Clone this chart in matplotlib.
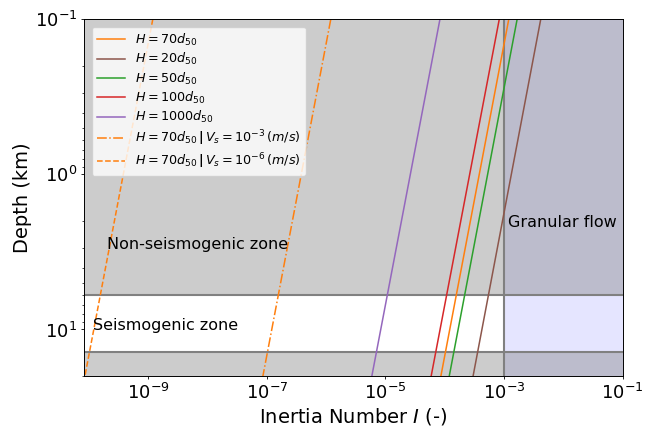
import matplotlib
matplotlib.use("Agg")
import matplotlib.pyplot as plt

# depth (km) at the two ends of every line, lines are straight on log-log
depth_ends = [0.1, 20]

# inertia number read at top (0.1 km) and bottom (20 km)
I_H70 = [1.20e-3, 8.6e-5]
I_H20 = [4.15e-3, 3.0e-4]
I_H50 = [1.66e-3, 1.19e-4]
I_H100 = [8.3e-4, 5.9e-5]
I_H1000 = [8.3e-5, 5.9e-6]
I_H70_vs3 = [1.20e-6, 8.6e-8]
I_H70_vs6 = [1.20e-9, 8.6e-11]

# zones
seis_top = 6
seis_bottom = 14
granular_I = 1e-3

fig, ax = plt.subplots(figsize=(6.46, 4.26), dpi=100)
fig.subplots_adjust(left=0.130, right=0.964, top=0.955, bottom=0.117)

ax.set_xscale("log")
ax.set_yscale("log")

# backgrounds
ax.axvspan(granular_I, 1e-1, color="blue", alpha=0.1, lw=0)
ax.axhspan(0.1, seis_top, color="gray", alpha=0.4, lw=0)
ax.axhspan(seis_bottom, 20, color="gray", alpha=0.4, lw=0)
ax.axhline(seis_top, color="gray", lw=1.5)
ax.axhline(seis_bottom, color="gray", lw=1.5)
ax.axvline(granular_I, color="gray", lw=1.5)

lw = 1.1
ax.plot(I_H70, depth_ends, color="C1", lw=lw, label=r"$H=70d_{50}$")
ax.plot(I_H20, depth_ends, color="C5", lw=lw, label=r"$H=20d_{50}$")
ax.plot(I_H50, depth_ends, color="C2", lw=lw, label=r"$H=50d_{50}$")
ax.plot(I_H100, depth_ends, color="C3", lw=lw, label=r"$H=100d_{50}$")
ax.plot(I_H1000, depth_ends, color="C4", lw=lw, label=r"$H=1000d_{50}$")
ax.plot(I_H70_vs3, depth_ends, color="C1", lw=lw, ls="-.",
        label=r"$H=70d_{50}\,\mathbf{|}\,V_s=10^{-3}\,(m/s)$")
ax.plot(I_H70_vs6, depth_ends, color="C1", lw=lw, ls="--",
        label=r"$H=70d_{50}\,\mathbf{|}\,V_s=10^{-6}\,(m/s)$")

ax.text(2.0e-10, 2.85, "Non-seismogenic zone", fontsize=11.5, va="center")
ax.text(1.17e-10, 9.4, "Seismogenic zone", fontsize=11.5, va="center")
ax.text(1.15e-3, 2.05, "Granular flow", fontsize=11.5, va="center")

ax.set_xlim(8.3e-11, 1e-1)
ax.set_ylim(20, 0.1)
ax.set_xticks([1e-9, 1e-7, 1e-5, 1e-3, 1e-1])
ax.tick_params(axis="both", which="major", labelsize=13, length=2.5, pad=2.5, width=0.6)
ax.tick_params(axis="both", which="minor", length=1.5, width=0.5)
for sp in ax.spines.values():
    sp.set_linewidth(0.7)
ax.set_xlabel(r"Inertia Number $I$ (-)", fontsize=14, labelpad=2)
ax.set_ylabel("Depth (km)", fontsize=14, labelpad=2)

ax.legend(loc="upper left", fontsize=9.2, labelspacing=0.25, handlelength=2.2,
          borderaxespad=0.6)

fig.savefig("out.png", dpi=100)
